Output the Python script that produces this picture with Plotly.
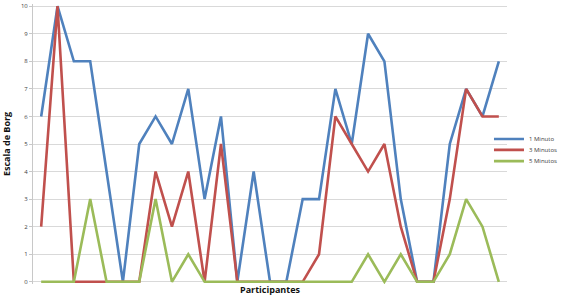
import plotly.graph_objects as go

participants = list(range(1, 30))
minuto_1 = [6, 10, 8, 8, 4, 0, 5, 6, 5, 7, 3, 6, 0, 4, 0, 0, 3, 3, 7, 5, 9, 8, 3, 0, 0, 5, 7, 6, 8]
minutos_3 = [2, 10, 0, 0, 0, 0, 0, 4, 2, 4, 0, 5, 0, 0, 0, 0, 0, 1, 6, 5, 4, 5, 2, 0, 0, 3, 7, 6, 6]
minutos_5 = [0, 0, 0, 3, 0, 0, 0, 3, 0, 1, 0, 0, 0, 0, 0, 0, 0, 0, 0, 0, 1, 0, 1, 0, 0, 1, 3, 2, 0]
series_names = ["1 Minuto", "3 Minutos", "5 Minutos"]
y_ticks = list(range(0, 11))

colors = ["#4F81BD", "#C0504D", "#9BBB59"]
legend_ids = ["legend", "legend2", "legend3"]
legend_y = [0.518, 0.479, 0.439]

fig = go.Figure()
for name, vals, c, lg in zip(series_names, [minuto_1, minutos_3, minutos_5], colors, legend_ids):
    fig.add_trace(go.Scatter(
        x=participants, y=vals, mode="lines", name=name,
        line=dict(color=c, width=2.6), legend=lg,
    ))

legend_style = dict(
    x=0.962, xanchor="left", yanchor="middle",
    font=dict(size=6, color="#404040"),
    itemwidth=30, bgcolor="rgba(0,0,0,0)",
)

fig.update_layout(
    width=567, height=302,
    margin=dict(l=33, r=52, t=4, b=18),
    paper_bgcolor="white", plot_bgcolor="white",
    font=dict(family="Open Sans, Lato, sans-serif", color="#404040"),
    showlegend=True,
    legend=dict(y=legend_y[0], **legend_style),
    legend2=dict(y=legend_y[1], **legend_style),
    legend3=dict(y=legend_y[2], **legend_style),
    xaxis=dict(
        range=[0.5, 29.5], showticklabels=False, showgrid=False,
        zeroline=False, showline=False, ticks="",
        title=dict(text="<b>Participantes</b>", font=dict(size=9, color="#111111"), standoff=2),
        automargin=False,
    ),
    yaxis=dict(
        range=[-0.08, 10.08], tickvals=y_ticks,
        showgrid=True, gridcolor="#d9d9d9", gridwidth=1,
        zeroline=False, showline=True, linecolor="#c8c8c8", linewidth=1,
        ticks="outside", ticklen=3, tickcolor="#c8c8c8",
        tickfont=dict(size=6, color="#404040"),
        title=dict(text="<b>Escala de Borg</b>", font=dict(size=9, color="#111111"), standoff=8),
        automargin=False,
    ),
)

fig.write_html(
    "out.html",
    config={"responsive": False, "displayModeBar": False},
    post_script="document.body.style.margin='0';document.body.style.overflow='hidden';",
)
